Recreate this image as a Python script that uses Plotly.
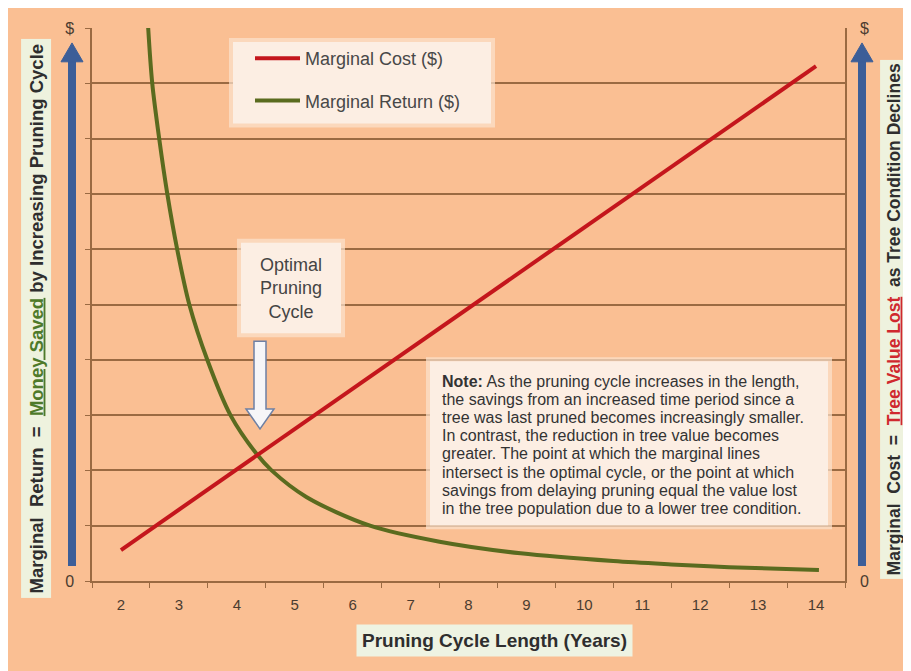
import plotly.graph_objects as go

# ---- data ----
cost_x = [2, 14]
cost_y = [0.56, 9.31]
return_x = [2.47, 2.54, 2.66, 2.80, 2.97, 3.18, 3.49, 3.89, 4.34, 4.6, 5.2, 6.3, 7.5, 8.9, 10.5, 11.5, 12.5, 14.05]
return_y = [10, 9, 8, 7, 6, 5, 4, 3, 2.3, 2.0, 1.52, 1.0, 0.71, 0.5, 0.36, 0.30, 0.25, 0.20]
x_tick_vals = [2, 3, 4, 5, 6, 7, 8, 9, 10, 11, 12, 13, 14]
x_tick_text = ["2", "3", "4", "5", "6", "7", "8", "9", "10", "11", "12", "13", "14"]
y_tick_vals = [0, 1, 2, 3, 4, 5, 6, 7, 8, 9, 10]
y_tick_text = ["0", "", "", "", "", "", "", "", "", "", "$"]
note_lines = [
    "<b>Note:</b> As the pruning cycle increases in the length,",
    "the savings from an increased time period since a",
    "tree was last pruned becomes increasingly smaller.",
    "In contrast, the reduction in tree value becomes",
    "greater. The point at which the marginal lines",
    "intersect is the optimal cycle, or the point at which",
    "savings from delaying pruning equal the value lost",
    "in the tree population due to a lower tree condition.",
]

# page is 911x671; the figure sits at (8, 8) because of the body margin
OFF = 8
W_FIG, H_FIG = 903, 663
L, R, T, B = 92, 845, 25, 581  # plot area in page pixels
ORANGE = "#FABF93"
PALE = "#FCEEE3"
GRID = "#9A6A42"
BLUE = "#3C5E98"
FONT = "Liberation Sans, Arial"


def px(xp):
    return (xp - L) / (R - L)


def py(yp):
    return (B - yp) / (B - T)


def path(points):
    return "M " + " L ".join(f"{px(a):.5f},{py(b):.5f}" for a, b in points) + " Z"


fig = go.Figure()
fig.add_trace(go.Scatter(x=cost_x, y=cost_y, mode="lines", name="Marginal Cost ($)",
                         line=dict(color="#C4161C", width=4), legendgroup="a", yaxis="y2"))
fig.add_trace(go.Scatter(x=return_x, y=return_y, mode="lines", name="Marginal Return ($)",
                         line=dict(color="#5A6B1F", width=4, shape="spline", smoothing=0.9),
                         legendgroup="b"))

shapes = []


def box(x0, y0, x1, y1):
    shapes.append(dict(type="rect", xref="paper", yref="paper", x0=px(x0 - 4), x1=px(x1 + 4),
                       y0=py(y0 - 4), y1=py(y1 + 4), fillcolor="#FBE2CD", line=dict(width=0),
                       layer="above", opacity=0.7))
    shapes.append(dict(type="rect", xref="paper", yref="paper", x0=px(x0), x1=px(x1), y0=py(y0), y1=py(y1),
                       fillcolor=PALE, line=dict(width=0), layer="above"))


box(233, 39, 491, 121)     # legend
box(241, 241, 341, 332)    # optimal
box(430, 360, 828, 525)    # note

# hollow arrow
shapes.append(dict(type="path", xref="paper", yref="paper",
                   path=path([(254, 340), (266, 340), (266, 408), (274, 408), (260, 428), (246, 408), (254, 408)]),
                   fillcolor="#F6F6F8", line=dict(color="#6E80A4", width=1.5), layer="above"))
# blue axis arrows
for xa in (72, 862):
    shapes.append(dict(type="line", xref="paper", yref="paper", x0=px(xa), x1=px(xa), y0=py(566), y1=py(56),
                       line=dict(color=BLUE, width=8), layer="above"))
    shapes.append(dict(type="path", xref="paper", yref="paper",
                       path=path([(xa - 11, 59), (xa + 11, 59), (xa, 40)]),
                       fillcolor=BLUE, line=dict(color=BLUE, width=1), layer="above"))

annotations = []
annotations.append(dict(xref="paper", yref="paper", x=px(291), y=py(287), xanchor="center", yanchor="middle",
                        text="Optimal<br>Pruning<br>Cycle", showarrow=False,
                        font=dict(family=FONT, size=18, color="#444444")))
for i, line in enumerate(note_lines):
    annotations.append(dict(xref="paper", yref="paper", x=px(440), y=py(380 + i * 18.3),
                            xanchor="left", yanchor="middle", text=line, showarrow=False, align="left",
                            font=dict(family=FONT, size=16, color="#333333")))
annotations.append(dict(xref="paper", yref="paper", x=px(494), y=py(641), xanchor="center", yanchor="middle",
                        text="<b>Pruning Cycle Length (Years)</b>", showarrow=False, bgcolor="#EEF3E2",
                        borderpad=5, font=dict(family=FONT, size=19, color="#2E2E2E")))
annotations.append(dict(xref="paper", yref="paper", x=px(36), y=py(317), xanchor="center", yanchor="middle",
                        textangle=-90, showarrow=False, bgcolor="#EEF2DE", borderpad=4,
                        text=("<b>Marginal  Return  =  <span style='color:#4E7A2A'><u>Money Saved</u></span>"
                              " by Increasing Pruning Cycle</b>"),
                        font=dict(family=FONT, size=18.5, color="#2E2E2E")))
annotations.append(dict(xref="paper", yref="paper", x=px(894), y=py(318), xanchor="center", yanchor="middle",
                        textangle=-90, showarrow=False, bgcolor="#EEF2DE", borderpad=3,
                        text=("<b>Marginal  Cost  =  <span style='color:#D0282E'><u>Tree Value Lost</u></span>"
                              "  as Tree Condition Declines</b>"),
                        font=dict(family=FONT, size=17.5, color="#2E2E2E")))

fig.update_layout(
    width=W_FIG, height=H_FIG,
    margin=dict(l=L - OFF, r=(OFF + W_FIG) - R, t=T - OFF, b=(OFF + H_FIG) - B),
    paper_bgcolor=ORANGE, plot_bgcolor=ORANGE,
    shapes=shapes, annotations=annotations,
    showlegend=True,
    legend=dict(x=px(250), y=py(37), xanchor="left", yanchor="top", bgcolor="rgba(0,0,0,0)",
                traceorder="grouped", tracegroupgap=16, itemwidth=45,
                font=dict(family=FONT, size=18, color="#484848")),
    xaxis=dict(range=[1.5, 14.5], tickvals=x_tick_vals, ticktext=x_tick_text, ticks="", showgrid=False,
               showline=True, linecolor=GRID, linewidth=1.5, zeroline=False, ticklabelstandoff=9,
               tickfont=dict(family=FONT, size=15, color="#4A3C30"),
               minor=dict(tick0=1.5, dtick=1, ticks="outside", ticklen=5, tickcolor=GRID, showgrid=False)),
    yaxis=dict(range=[0, 10], tickvals=y_tick_vals, ticktext=y_tick_text, ticks="outside", ticklen=5,
               tickcolor=GRID, showgrid=True, gridcolor=GRID, gridwidth=1.5, showline=True, linecolor=GRID,
               linewidth=1.5, zeroline=False, ticklabelstandoff=8,
               tickfont=dict(family=FONT, size=16, color="#4A3C30")),
    yaxis2=dict(range=[0, 10], overlaying="y", side="right", tickvals=y_tick_vals, ticktext=y_tick_text,
                ticks="", showgrid=False, showline=True, linecolor=GRID, linewidth=1.5, zeroline=False,
                ticklabelstandoff=10,
                tickfont=dict(family=FONT, size=16, color="#4A3C30")),
)

fig.write_html("out.html")
